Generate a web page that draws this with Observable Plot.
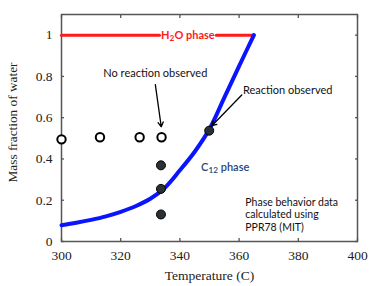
<!DOCTYPE html>
<html>
<head>
<meta charset="utf-8">
<script src="https://cdn.jsdelivr.net/npm/d3@7"></script>
<script src="https://cdn.jsdelivr.net/npm/@observablehq/plot@0.6"></script>
<style>
  html, body { margin: 0; padding: 0; background: #fff; }
</style>
</head>
<body>
<div id="chart"></div>
<script>
// Tick values and labels
const xTicks = [300, 320, 340, 360, 380, 400];
const yTicks = [0, 0.2, 0.4, 0.6, 0.8, 1];
const yTickLabels = ["0", "0.2", "0.4", "0.6", "0.8", "1"];

// H2O phase boundary (red), with a gap where its label sits
const h2oSegA_T = [300, 333.1];
const h2oSegB_T = [352.3, 365];
const h2oW = 1.0;

// C12 phase boundary (blue curve)
const c12T = [300, 305, 310, 315, 320, 325, 330, 335, 340, 345, 350, 355, 360, 365];
const c12W = [0.079, 0.091, 0.105, 0.122, 0.144, 0.171, 0.207, 0.262, 0.345, 0.435, 0.545, 0.697, 0.85, 1.0];

// Experiments: no reaction observed (open circles)
const noRxnT = [300, 313, 326.4, 333.8];
const noRxnW = [0.495, 0.505, 0.505, 0.505];

// Experiments: reaction observed (filled dots)
const rxnT = [333.6, 333.6, 333.6, 349.9];
const rxnW = [0.369, 0.255, 0.131, 0.537];

// Annotations
const labels = [
  {text: "No reaction observed", t: 331.7, w: 0.813},
  {text: "Reaction observed", t: 376.4, w: 0.734}
];
const arrows = [
  {t1: 331.7, w1: 0.76, t2: 333.7, w2: 0.556},
  {t1: 360.9, w1: 0.71, t2: 350.8, w2: 0.561}
];
const h2oLabel = {text: "H\u2082O phase", t: 342.7, w: 1.0};
const c12Label = {text: "C\u2081\u2082 phase", t: 355.3, w: 0.358};
const noteLabel = {text: "Phase behavior data\ncalculated using\nPPR78 (MIT)", t: 362.1, w: 0.132};

const xLabel = "Temperature (C)";
const yLabel = "Mass fraction of water";

const seg = (T, W) => T.map((t, i) => ({t, w: Array.isArray(W) ? W[i] : W}));

const sans = "Lato, 'Open Sans', sans-serif";

const chart = Plot.plot({
  width: 380,
  height: 286,
  marginLeft: 61,
  marginRight: 23,
  marginTop: 14,
  marginBottom: 45,
  style: {fontFamily: "'Liberation Serif', 'Times New Roman', serif", fontSize: "13.5px", color: "#222", background: "#fff"},
  x: {domain: [300, 400]},
  y: {domain: [0, 1.1]},
  marks: [
    Plot.frame({stroke: "#555", strokeWidth: 1.5}),
    Plot.axisX({ticks: xTicks, tickSize: -3, tickPadding: 12, label: null, stroke: "#555", strokeWidth: 1.3}),
    Plot.axisX({anchor: "top", ticks: xTicks, tickSize: -3, tickFormat: () => "", label: null, stroke: "#555", strokeWidth: 1.3}),
    Plot.axisY({ticks: yTicks, tickSize: -3, tickPadding: 12, tickFormat: (d, i) => yTickLabels[i], label: null, stroke: "#555", strokeWidth: 1.3}),
    Plot.axisY({anchor: "right", ticks: yTicks, tickSize: -3, tickFormat: () => "", label: null, stroke: "#555", strokeWidth: 1.3}),
    Plot.text([xLabel], {frameAnchor: "bottom", dy: 34, lineAnchor: "middle", fontSize: 13.5}),
    Plot.text([yLabel], {frameAnchor: "left", dx: -49, dy: -5.5, rotate: -90, textAnchor: "middle", lineAnchor: "middle", fontSize: 13.3}),
    // red H2O boundary
    Plot.line(seg(h2oSegA_T, h2oW), {x: "t", y: "w", stroke: "#ff1a1a", strokeWidth: 3}),
    Plot.line(seg(h2oSegB_T, h2oW), {x: "t", y: "w", stroke: "#ff1a1a", strokeWidth: 3}),
    Plot.text([h2oLabel], {x: "t", y: "w", text: "text", fill: "#ff1a1a", fontWeight: "bold", fontSize: 11, fontFamily: sans}),
    // blue C12 boundary
    Plot.line(seg(c12T, c12W), {x: "t", y: "w", stroke: "#0a14ff", strokeWidth: 4, curve: "catmull-rom"}),
    Plot.text([c12Label], {x: "t", y: "w", text: "text", fill: "#2e4677", fontWeight: 600, fontSize: 11, fontFamily: sans}),
    // arrows
    Plot.arrow(arrows, {x1: "t1", y1: "w1", x2: "t2", y2: "w2", stroke: "#000", strokeWidth: 1.3, headLength: 6}),
    // points
    Plot.dot(seg(noRxnT, noRxnW), {x: "t", y: "w", r: 4.2, fill: "#fff", stroke: "#000", strokeWidth: 2}),
    Plot.dot(seg(rxnT, rxnW), {x: "t", y: "w", r: 4.5, fill: "#2b3036", stroke: "#000", strokeWidth: 1}),
    // annotations
    Plot.text(labels, {x: "t", y: "w", text: "text", fill: "#111", fontSize: 11, fontFamily: sans}),
    Plot.text([noteLabel], {x: "t", y: "w", text: "text", textAnchor: "start", lineHeight: 1.2, fill: "#111", fontSize: 10.5, fontFamily: sans})
  ]
});

// Render Unicode subscript digits as real lowered, smaller tspans
const subMap = {"\u2080":"0","\u2081":"1","\u2082":"2","\u2083":"3","\u2084":"4","\u2085":"5","\u2086":"6","\u2087":"7","\u2088":"8","\u2089":"9"};
d3.select(chart).selectAll("text").each(function() {
  const el = this;
  if (el.querySelector("tspan")) return;
  const s = el.textContent;
  if (![...s].some(c => subMap[c])) return;
  const runs = [];
  for (const c of s) {
    const sub = !!subMap[c];
    const ch = sub ? subMap[c] : c;
    if (runs.length && runs[runs.length - 1].sub === sub) runs[runs.length - 1].t += ch;
    else runs.push({sub, t: ch});
  }
  el.textContent = "";
  let prevSub = false;
  for (const r of runs) {
    const ts = d3.select(el).append("tspan").text(r.t);
    if (r.sub) ts.attr("font-size", "75%").attr("dy", "0.25em");
    else if (prevSub) ts.attr("dy", "-0.19em");
    prevSub = r.sub;
  }
});

document.getElementById("chart").appendChild(chart);
</script>
</body>
</html>
